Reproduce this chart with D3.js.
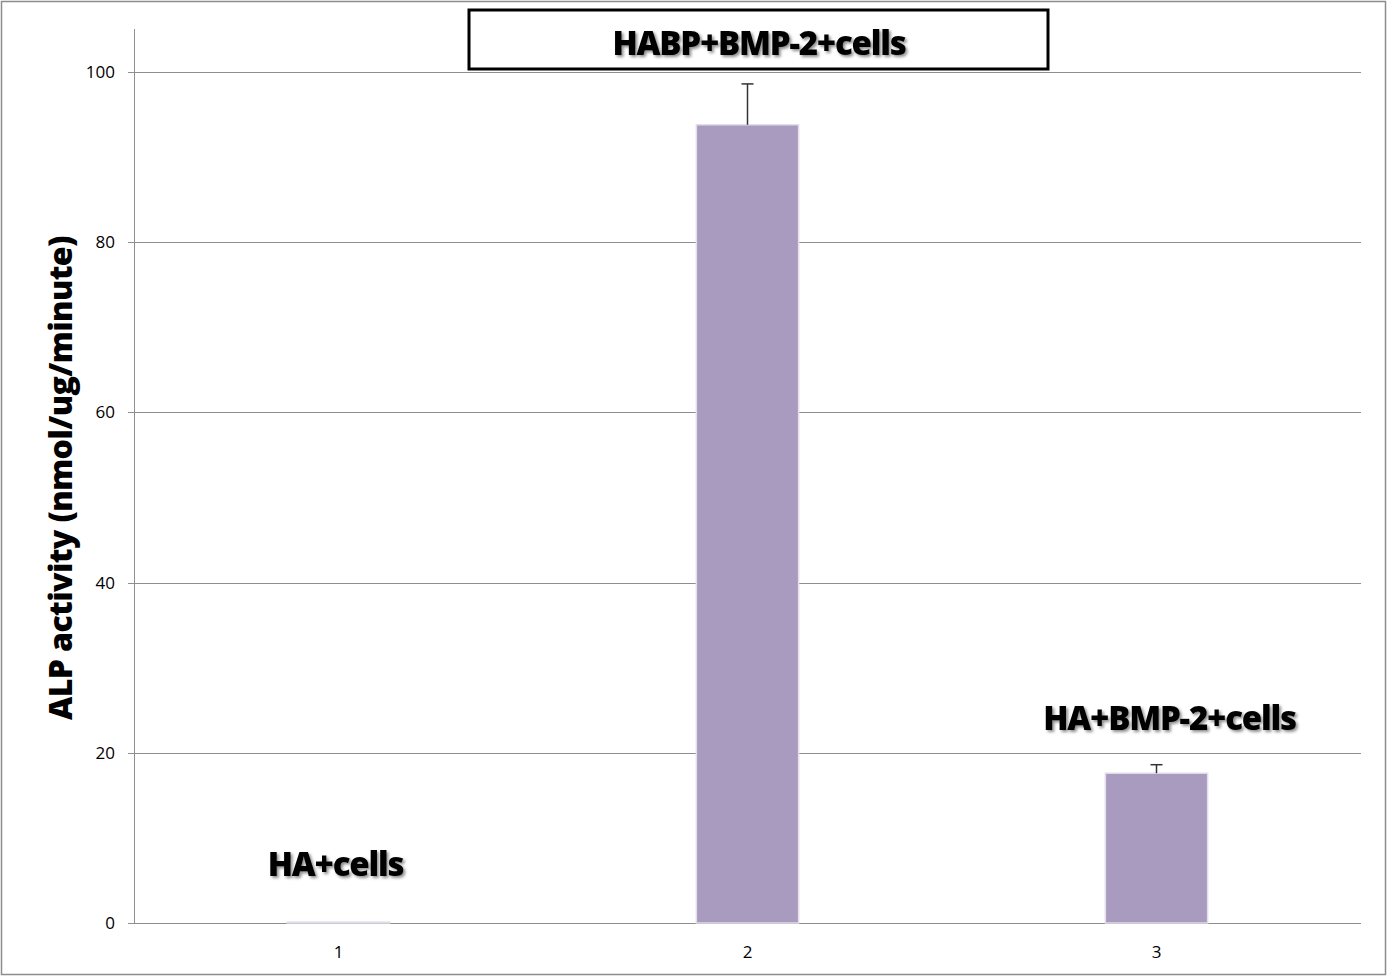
<html>
<head>
<meta charset="utf-8">
<title>ALP activity</title>
<script src="https://cdnjs.cloudflare.com/ajax/libs/d3/7.8.5/d3.min.js"></script>
<style>
  body { margin: 0; background: #fff; }
  text { font-family: "Open Sans", "DejaVu Sans", sans-serif; }
</style>
</head>
<body>
<svg></svg>
<script>
var categories = ["1", "2", "3"];
var values = [0.1, 93.8, 17.6];
var errors = [0, 4.8, 1.0];
var yTicks = [0, 20, 40, 60, 80, 100];
var groupLabels = ["HA+cells", "HABP+BMP-2+cells", "HA+BMP-2+cells"];
var yTitle = "ALP activity (nmol/ug/minute)";

var w = 1390, h = 978;
var svg = d3.select("svg").attr("width", w).attr("height", h);

var margin = {left: 134, right: 29, top: 72, bottom: 55};

var x = d3.scaleBand()
  .domain(categories)
  .range([margin.left, w - margin.right])
  .paddingInner(0.75).paddingOuter(0.375);

var y = d3.scaleLinear()
  .domain([0, 100])
  .range([h - margin.bottom, margin.top]);

var rows = categories.map(function(c, i) {
  return {cat: c, value: values[i], err: errors[i]};
});
function cx(d) { return x(d.cat) + x.bandwidth() / 2; }

// drop shadow for the bold labels
var defs = svg.append("defs");
var f = defs.append("filter").attr("id", "shadow").attr("x", "-10%").attr("y", "-20%").attr("width", "130%").attr("height", "160%");
f.append("feDropShadow").attr("dx", 2).attr("dy", 2).attr("stdDeviation", 1.5)
  .attr("flood-color", "#000").attr("flood-opacity", 0.45);

// outer frame
svg.append("rect").attr("x", 1.5).attr("y", 1.5).attr("width", w - 6).attr("height", h - 5)
  .attr("fill", "none").attr("stroke", "#8c8c8c").attr("stroke-width", 1.5);

// gridlines
svg.append("g").selectAll("line").data(yTicks).enter().append("line")
  .attr("x1", margin.left - 6).attr("x2", w - margin.right)
  .attr("y1", d => Math.round(y(d)) + 0.5).attr("y2", d => Math.round(y(d)) + 0.5)
  .attr("stroke", "#8e8e8e").attr("stroke-width", 1);

// y axis line
svg.append("line")
  .attr("x1", margin.left + 0.5).attr("x2", margin.left + 0.5)
  .attr("y1", 29).attr("y2", y(0))
  .attr("stroke", "#8e8e8e");

// y tick labels
svg.append("g").selectAll("text").data(yTicks).enter().append("text")
  .attr("x", 115).attr("y", d => y(d) + 6)
  .attr("text-anchor", "end").attr("font-size", 17).attr("fill", "#000")
  .text(d => d);

// x tick labels
svg.append("g").selectAll("text").data(categories).enter().append("text")
  .attr("x", d => x(d) + x.bandwidth() / 2).attr("y", 958)
  .attr("text-anchor", "middle").attr("font-size", 17).attr("fill", "#000")
  .text(d => d);

// bars
svg.append("g").selectAll("rect").data(rows).enter().append("rect")
  .attr("x", d => x(d.cat))
  .attr("y", d => y(d.value))
  .attr("width", x.bandwidth())
  .attr("height", d => y(0) - y(d.value))
  .attr("fill", "#a99bbf")
  .attr("stroke", "#e2dde8").attr("stroke-width", 1.5);

// error bars (upper only)
var eb = svg.append("g").selectAll("g").data(rows.filter(d => d.err > 0)).enter().append("g");
eb.append("line")
  .attr("x1", cx).attr("x2", cx)
  .attr("y1", d => y(d.value))
  .attr("y2", d => y(d.value + d.err))
  .attr("stroke", "#333").attr("stroke-width", 1.5);
eb.append("line")
  .attr("x1", d => cx(d) - 6).attr("x2", d => cx(d) + 6)
  .attr("y1", d => y(d.value + d.err))
  .attr("y2", d => y(d.value + d.err))
  .attr("stroke", "#333").attr("stroke-width", 1.5);

// title box for the middle group
svg.append("rect").attr("x", 469).attr("y", 10).attr("width", 579).attr("height", 59)
  .attr("fill", "#fff").attr("stroke", "#000").attr("stroke-width", 3);

var boldFont = "Lato, 'Open Sans', sans-serif";
function groupLabel(txt, px, py) {
  svg.append("text")
    .attr("x", px).attr("y", py)
    .attr("text-anchor", "middle").attr("font-size", 33).attr("font-weight", 900)
    .attr("font-family", boldFont).attr("letter-spacing", -1.2)
    .attr("filter", "url(#shadow)")
    .text(txt);
}
groupLabel(groupLabels[1], 759, 55);
groupLabel(groupLabels[0], cx(rows[0]) - 3, 876);
groupLabel(groupLabels[2], cx(rows[2]) + 13, 730);

// y axis title
svg.append("text")
  .attr("transform", "translate(72," + 478 + ") rotate(-90)")
  .attr("text-anchor", "middle").attr("font-size", 32).attr("font-weight", 900)
  .attr("font-family", boldFont).attr("letter-spacing", -0.6)
  .text(yTitle);
</script>
</body>
</html>
